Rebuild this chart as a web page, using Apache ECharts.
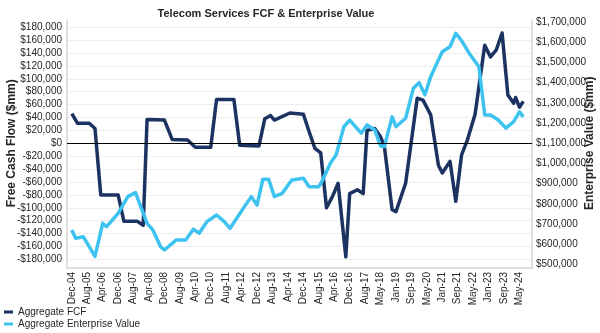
<!DOCTYPE html>
<html>
<head>
<meta charset="utf-8">
<script src="https://cdn.jsdelivr.net/npm/echarts@6/dist/echarts.min.js"></script>
<style>
html,body{margin:0;padding:0;background:#fff;}
#c{width:600px;height:333px;}
</style>
</head>
<body>
<div id="c"></div>
<script>
// Monthly category axis (Oct-04 .. Nov-24; one month absent in the source between Aug-17 and May-18)
const monthNames = ['Jan','Feb','Mar','Apr','May','Jun','Jul','Aug','Sep','Oct','Nov','Dec'];
const skippedMonth = 'Feb-18';
const categories = [];
for (let y = 2004, m = 9; y < 2024 || (y === 2024 && m <= 10); ) {
  const lab = monthNames[m] + '-' + String(y % 100).padStart(2, '0');
  if (lab !== skippedMonth) categories.push(lab);
  m++; if (m > 11) { m = 0; y++; }
}

// Tick labels shown on the x axis
const tickLabels = ['Dec-04','Aug-05','Apr-06','Dec-06','Aug-07','Apr-08','Dec-08','Aug-09','Apr-10','Dec-10',
  'Aug-11','Apr-12','Dec-12','Aug-13','Apr-14','Dec-14','Aug-15','Apr-16','Dec-16','Aug-17',
  'May-18','Jan-19','Sep-19','May-20','Jan-21','Sep-21','May-22','Jan-23','Sep-23','May-24'];

// Aggregate FCF ($mm)
const fcfDates = ['Dec-04','Mar-05','Sep-05','Dec-05','Mar-06','Dec-06','Mar-07','Oct-07','Jan-08','Mar-08',
  'Dec-08','Apr-09','Dec-09','Apr-10','Dec-10','Mar-11','Dec-11','Mar-12','Jan-13','Apr-13',
  'Jul-13','Sep-13','May-14','Dec-14','Mar-15','Jun-15','Sep-15','Dec-15','Mar-16','Jun-16',
  'Oct-16','Dec-16','Apr-17','Jul-17','Sep-17','Jan-18','May-18','Jul-18','Nov-18','Jan-19',
  'Jun-19','Dec-19','Mar-20','Jul-20','Nov-20','Jan-21','May-21','Aug-21','Nov-21','Feb-22',
  'Jun-22','Nov-22','Feb-23','May-23','Aug-23','Nov-23','Feb-24','Mar-24','May-24','Jul-24'];
const fcfValues = [46000,31000,31000,23000,-80000,-80000,-121000,-121000,-127000,37000,
  36000,6000,5000,-6000,-6000,68000,68000,-3000,-4000,38000,
  43000,36000,47000,45000,18000,-8000,-15000,-100000,-83000,-62000,
  -176000,-78000,-72000,-78000,20000,23000,10000,-5000,-103000,-106000,
  -62000,70000,67000,44000,-34000,-46000,-28000,-90000,-18000,5000,
  45000,152000,134000,145000,171000,75000,62000,71000,56000,65000];

// Aggregate Enterprise Value ($mm)
const evDates = ['Dec-04','Feb-05','Jun-05','Dec-05','Apr-06','Jun-06','Dec-06','May-07','Sep-07','Mar-08',
  'Jun-08','Oct-08','Dec-08','Jun-09','Nov-09','Mar-10','Jun-10','Oct-10','Mar-11','Jul-11',
  'Oct-11','Jun-12','Sep-12','Dec-12','Mar-13','Jun-13','Sep-13','Jan-14','Jun-14','Dec-14',
  'Mar-15','Aug-15','Oct-15','Feb-16','May-16','Sep-16','Dec-16','Jun-17','Sep-17','Jan-18',
  'May-18','Jul-18','Nov-18','Jan-19','Jun-19','Oct-19','Jan-20','Apr-20','Jul-20','Nov-20',
  'Jan-21','May-21','Aug-21','Nov-21','Mar-22','Aug-22','Nov-22','Feb-23','Jun-23','Oct-23',
  'Feb-24','May-24','Jul-24'];
const evValues = [671000,630000,637000,540000,704000,687000,753000,836000,856000,704000,
  671000,588000,572000,621000,621000,675000,655000,712000,745000,712000,
  679000,794000,836000,794000,922000,922000,836000,852000,918000,927000,
  885000,885000,918000,1001000,1043000,1182000,1215000,1150000,1191000,1166000,
  1087000,1084000,1231000,1182000,1224000,1372000,1400000,1340000,1430000,1512000,
  1553000,1578000,1644000,1608000,1545000,1479000,1240000,1240000,1215000,1175000,
  1207000,1256000,1231000];

const FONT = "'Liberation Sans', Arial, sans-serif";
const TXT = '#262626';
const FRAME = '#d4d4d4';
const fmt = v => (v < 0 ? '-' : '') + '$' + Math.abs(v).toLocaleString('en-US');

const chart = echarts.init(document.getElementById('c'), null, {renderer: 'canvas'});
const L = 67, R = 68;
chart.setOption({
  animation: false,
  backgroundColor: '#fff',
  textStyle: {fontFamily: FONT},
  title: {
    text: 'Telecom Services FCF & Enterprise Value',
    left: 261, top: 3, textAlign: 'center',
    textStyle: {fontFamily: FONT, fontSize: 11, fontWeight: 'bold', color: TXT}
  },
  legend: {
    orient: 'vertical', left: 4, top: 307, itemGap: 2, padding: 0,
    itemWidth: 9, itemHeight: 3, icon: 'rect',
    textStyle: {fontFamily: FONT, fontSize: 10, color: TXT},
    data: ['Aggregate FCF', 'Aggregate Enterprise Value']
  },
  grid: [
    {left: L, right: R, top: 20, bottom: 65, outerBoundsMode: 'none', containLabel: false},
    {left: L, right: R, top: 27.2, height: 232.2, outerBoundsMode: 'none', containLabel: false},
    {left: L, right: R, top: 22.1, height: 242.4, outerBoundsMode: 'none', containLabel: false}
  ],
  xAxis: [
    {
      type: 'category', gridIndex: 0, data: categories, boundaryGap: true,
      axisLine: {lineStyle: {color: FRAME, width: 1.5}},
      axisTick: {show: false},
      axisLabel: {
        rotate: 90, margin: 4, fontSize: 10, color: TXT, fontFamily: FONT,
        interval: (idx, val) => tickLabels.includes(val)
      },
      splitLine: {show: false}
    },
    {type: 'category', gridIndex: 1, data: categories, boundaryGap: true, show: false},
    {type: 'category', gridIndex: 2, data: categories, boundaryGap: true, show: false}
  ],
  yAxis: [
    {type: 'value', gridIndex: 0, min: 0, max: 1, position: 'left',
      axisLine: {show: true, lineStyle: {color: FRAME, width: 1.5}},
      axisLabel: {show: false}, axisTick: {show: false}, splitLine: {show: false}},
    {type: 'value', gridIndex: 0, min: 0, max: 1, position: 'right',
      axisLine: {show: true, lineStyle: {color: FRAME, width: 1.5}},
      axisLabel: {show: false}, axisTick: {show: false}, splitLine: {show: false}},
    {type: 'value', gridIndex: 1, min: -180000, max: 180000, interval: 20000, position: 'left',
      name: 'Free Cash Flow ($mm)', nameLocation: 'middle', nameGap: 49, nameRotate: 90,
      nameMoveOverlap: false,
      nameTextStyle: {fontFamily: FONT, fontSize: 12, color: TXT, fontWeight: 'bold'},
      axisLine: {show: false}, axisTick: {show: false},
      axisLabel: {fontSize: 10, color: TXT, fontFamily: FONT, margin: 5, formatter: fmt},
      splitLine: {show: true, lineStyle: {color: '#eeeeee', width: 1}}},
    {type: 'value', gridIndex: 2, min: 500000, max: 1700000, interval: 100000, position: 'right',
      name: 'Enterprise Value ($mm)', nameLocation: 'middle', nameGap: 52, nameRotate: 90,
      nameMoveOverlap: false,
      nameTextStyle: {fontFamily: FONT, fontSize: 12, color: TXT, fontWeight: 'bold'},
      axisLine: {show: false}, axisTick: {show: false},
      axisLabel: {fontSize: 10, color: TXT, fontFamily: FONT, margin: 4, formatter: fmt},
      splitLine: {show: false}}
  ],
  series: [
    {
      name: 'Aggregate FCF', type: 'line', xAxisIndex: 1, yAxisIndex: 2,
      data: fcfDates.map((d, i) => [d, fcfValues[i]]),
      showSymbol: false, symbol: 'none', z: 3,
      lineStyle: {color: '#1c3260', width: 3.5, join: 'round'},
      itemStyle: {color: '#1c3260'},
      markLine: {
        silent: true, symbol: 'none', label: {show: false},
        lineStyle: {color: '#000', width: 1, type: 'solid'},
        data: [{yAxis: 0}]
      }
    },
    {
      name: 'Aggregate Enterprise Value', type: 'line', xAxisIndex: 2, yAxisIndex: 3,
      data: evDates.map((d, i) => [d, evValues[i]]),
      showSymbol: false, symbol: 'none', z: 4,
      lineStyle: {color: '#3ec3f0', width: 3.5, join: 'round'},
      itemStyle: {color: '#3ec3f0'}
    }
  ]
});
</script>
</body>
</html>
